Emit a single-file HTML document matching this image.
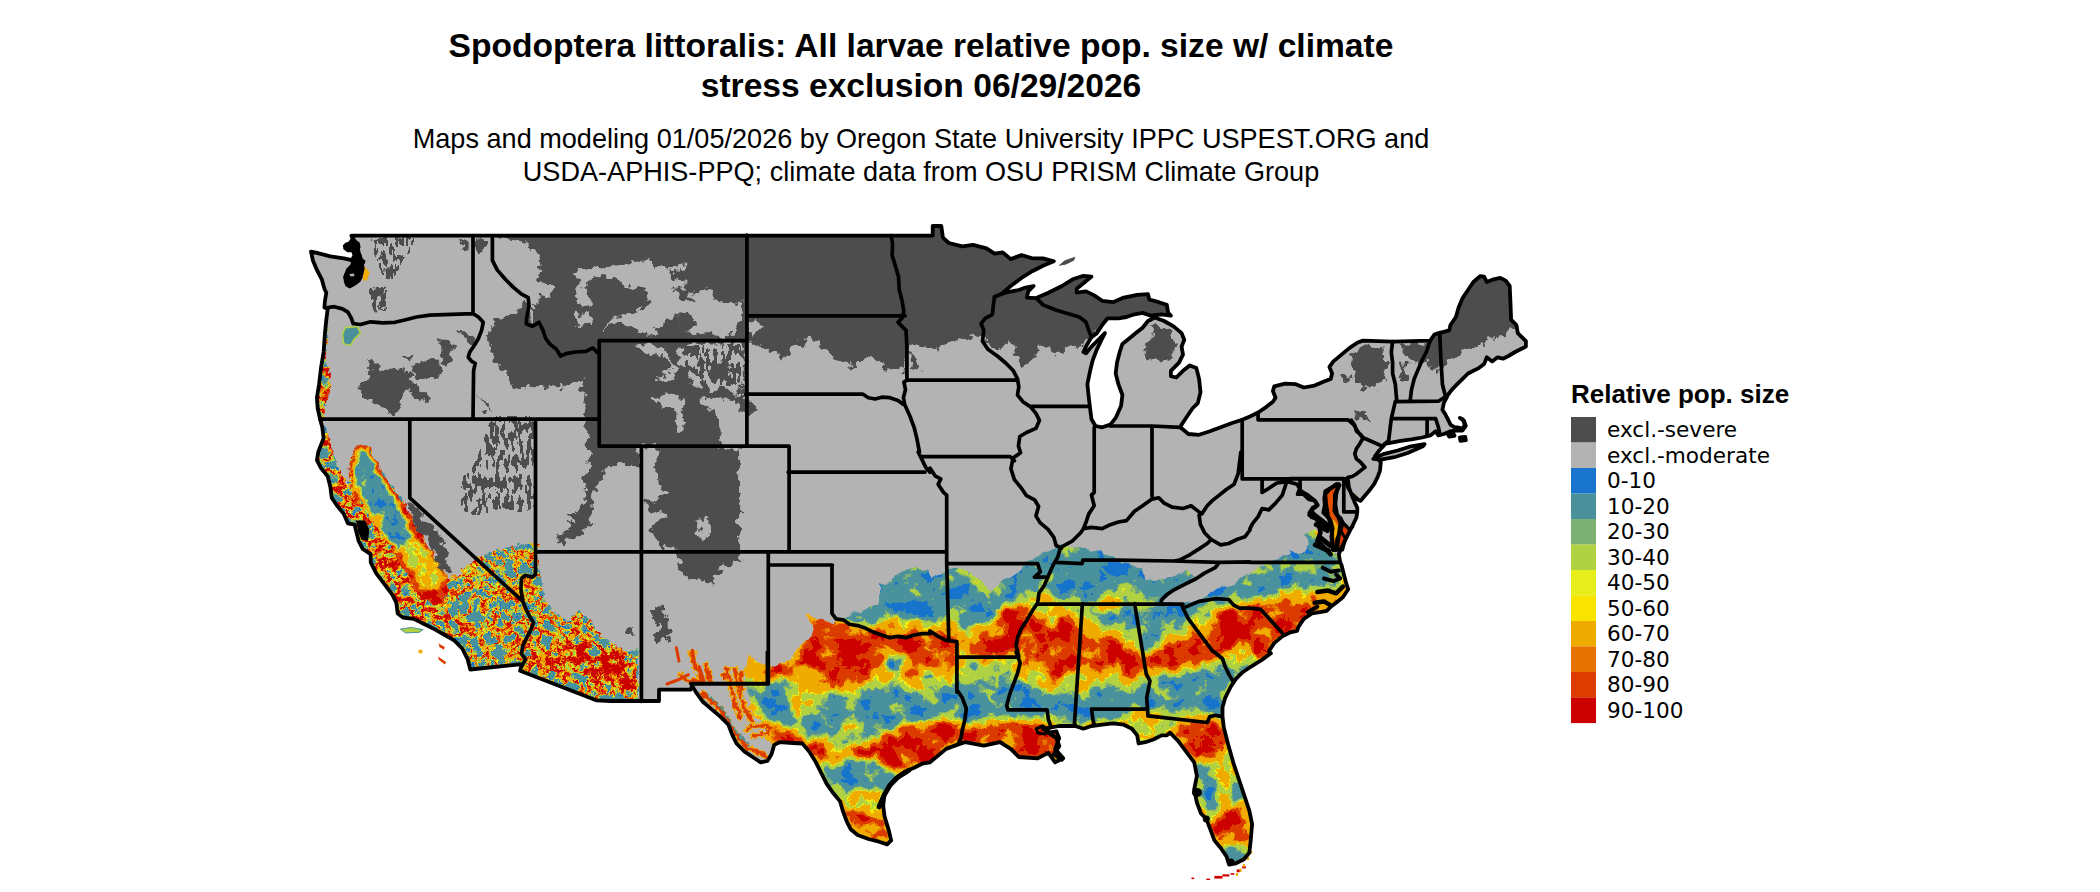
<!DOCTYPE html>
<html><head><meta charset="utf-8"><title>Spodoptera littoralis</title>
<style>
html,body{margin:0;padding:0;background:#fff;}
body{width:2100px;height:892px;overflow:hidden;position:relative;font-family:"Liberation Sans",sans-serif;}
svg{position:absolute;left:0;top:0;}
.t1{font:bold 33.6px "Liberation Sans",sans-serif;fill:#000;text-anchor:middle;}
.t2{font:27.1px "Liberation Sans",sans-serif;fill:#000;text-anchor:middle;}
.lt{font:bold 26px "Liberation Sans",sans-serif;fill:#000;}
.lg{font:21.6px "DejaVu Sans",sans-serif;fill:#000;}
</style></head><body>
<svg width="2100" height="892" viewBox="0 0 2100 892">
<defs>
<clipPath id="us"><path d="M351.4 235.7 L932.7 235.7 L932.7 226 L941.3 226 L942.9 237.6 L948.8 243 L962.3 246.4 L973.1 244.8 L986.5 248.3 L994.6 253.7 L1002.7 252.4 L1010.7 259.1 L1021.5 255.1 L1032.3 258.3 L1043 258.3 L1053.8 261.3 L1043 265.8 L1032.3 271.2 L1021.5 277.9 L1010.7 286 L1001.3 294.1 L994.6 296.8 L1005.4 292.7 L1018.8 290 L1024.2 287.9 L1033.6 286 L1028.2 291.4 L1026.9 297.6 L1036.3 298.1 L1048.4 292.7 L1061.9 286 L1072.6 279.3 L1083.4 275.8 L1091.5 276.6 L1083.4 283.3 L1076.7 288.7 L1076.7 292.7 L1086.1 291.4 L1094.2 295.4 L1102.2 300.8 L1113 302.2 L1123.8 297.6 L1137.2 294.9 L1148 294.1 L1149.3 299.5 L1158.8 302.2 L1166.8 304.9 L1168.2 312.9 L1170.9 315.6 L1161.5 314.3 L1150.7 315.6 L1142.6 312.9 L1134.5 314.3 L1126.5 317 L1118.4 318.3 L1107.6 318.3 L1102.2 325 L1096.9 333.1 L1091.5 337.1 L1087.4 343.9 L1083.4 352 L1086.1 353.3 L1091.5 346.6 L1099.6 338.5 L1104.9 333.1 L1102.2 338.5 L1096.9 349.3 L1092.8 360 L1090.1 370.8 L1087.4 384.2 L1088.8 397.7 L1090.1 408.5 L1091.5 419.2 L1095.5 426 L1102.2 427.3 L1110.3 424.6 L1115.7 417.9 L1121.1 405.8 L1122.4 395 L1118.4 384.2 L1115.7 373.5 L1117 362.7 L1119.7 352 L1122.4 343.9 L1129.2 338.5 L1135.9 333.1 L1142.6 327.7 L1148 321 L1154.7 317.5 L1164.1 321 L1173.6 326.4 L1181.6 333.1 L1184.3 339.8 L1181.6 346.6 L1183 354.6 L1179 362.7 L1170.9 370.8 L1170.9 376.2 L1176.3 377.5 L1183 370.8 L1189.7 365.4 L1196.4 368.1 L1199.1 378.9 L1200.5 392.3 L1197.8 403.1 L1192.4 408.5 L1187 416.5 L1181.6 424.6 L1180.3 427.3 L1188.4 434 L1199.1 434.8 L1209.9 431.3 L1220.7 427.3 L1231.4 423.3 L1242.2 419.8 L1250 416.5 L1250 416.5 L1258.1 412.5 L1266.1 407.1 L1272.9 401.7 L1275.6 397.7 L1272.9 391 L1274.2 386.4 L1285 383.7 L1295.8 384.2 L1303.8 387.5 L1314.6 385.6 L1324 381.6 L1330.7 378.9 L1332.1 373.5 L1329.4 366.8 L1333.4 361.4 L1341.5 354.6 L1349.6 347.9 L1357.7 342.5 L1363 340.6 L1392.6 341.7 L1430.3 340.6 L1434.4 334.5 L1438.4 333.1 L1443.8 331.8 L1449.2 330.4 L1450.5 325 L1455.9 317 L1458.6 307.5 L1462.6 298.1 L1468 290 L1473.4 282 L1480.1 276.1 L1484.1 276.6 L1486.8 282 L1493.6 279.3 L1500.3 277.9 L1505.7 280.6 L1509.7 286 L1510.5 303.5 L1511.1 319.7 L1516.4 325 L1517.8 333.1 L1521.8 337.1 L1525.9 341.2 L1525.9 346.6 L1520.5 349.3 L1515.1 352 L1508.4 356 L1503 358.7 L1497.6 357.3 L1492.2 361.4 L1486.8 357.3 L1484.1 364.1 L1478.8 368.1 L1473.4 370.8 L1468 373.5 L1462.6 378.9 L1457.2 384.2 L1451.9 389.6 L1447.8 395 L1446.5 397.7 L1443.8 403.1 L1442.4 409.8 L1445.1 413.9 L1447.8 419.2 L1450.5 424.6 L1454.5 427.3 L1457.2 427.3 L1462.6 428.7 L1464.8 424.6 L1462.6 419.2 L1459.9 417.9 L1464 420.6 L1465.8 426 L1462.6 430.5 L1455.9 430.5 L1450.5 431.3 L1443.8 434 L1438.4 435.4 L1435.7 431.3 L1430.3 435.4 L1422.2 437.5 L1411.5 439.4 L1400.7 440.8 L1390 442.9 L1384.6 444 L1384.2 445.1 L1379.2 450.5 L1374.9 456.3 L1377.5 458.9 L1380.8 462.2 L1380 470.6 L1377.5 477.4 L1374.1 484.1 L1369.1 490.8 L1364 496.7 L1360.6 500.9 L1358.6 500.1 L1354.8 496.7 L1351.4 493.4 L1348 487.5 L1346.3 482.4 L1346.3 479.1 L1348 479.9 L1348.9 487.5 L1351.4 494.2 L1354.8 502.6 L1357.3 507.7 L1357.3 511.9 L1356.4 517.7 L1353.1 524.5 L1349.7 531.2 L1345.5 539.6 L1341.3 548 L1338.8 554.3 L1340.2 562.3 L1341.5 565 L1344.2 575.8 L1346.4 583.9 L1348.2 589.3 L1342.9 597.3 L1336.1 602.7 L1330.7 606.8 L1326.7 610.8 L1320 612.1 L1311.9 613.5 L1303.8 618.9 L1298.4 626.9 L1297.1 631 L1290.4 632.3 L1282.3 636.4 L1274.2 643.1 L1268.8 651.2 L1270.9 653.3 L1261.5 660.1 L1250.7 666.8 L1242.7 672.2 L1235.9 678.9 L1230.6 687 L1225.2 697.8 L1222.5 707.2 L1222.5 716.6 L1223.8 727.4 L1227.9 743.5 L1233.2 762.3 L1238.6 778.5 L1244 794.6 L1249.4 810.8 L1252.1 824.2 L1250.7 840.4 L1249.4 852.5 L1244 859.2 L1235.9 863.3 L1229.2 864.6 L1226.5 856.5 L1221.1 848.5 L1214.4 840.4 L1210.4 829.6 L1206.3 818.9 L1201 813.5 L1196.9 802.7 L1194.2 789.3 L1196.9 775.8 L1194.2 762.3 L1186.1 751.6 L1178.1 740.8 L1170 732.7 L1166.8 735.4 L1161.5 735.4 L1153.4 739.5 L1145.3 742.2 L1138.6 743.5 L1137.2 735.4 L1131.9 728.7 L1123.8 724.7 L1113 723.3 L1102.2 724.7 L1091.5 726 L1083.4 728.7 L1075.3 726 L1064.6 726 L1059.2 726 L1051.1 727.4 L1043 728.7 L1048.4 732.7 L1056.5 731.4 L1059.2 738.1 L1055.1 748.9 L1063.2 758.3 L1055.1 762.3 L1048.4 752.9 L1037.7 758.3 L1018.8 757 L1010.7 748.9 L1000 742.2 L983.8 745.7 L965 742.2 L956.9 744.9 L946.1 748.9 L938.1 755.6 L930 762.3 L922.2 763.7 L914.1 767.7 L904.7 771.8 L895.3 778.5 L888.6 786.6 L884.5 794.6 L883.2 805.4 L884.5 816.2 L888.6 829.6 L891.2 840.4 L887.2 844.4 L879.1 841.7 L868.4 839 L857.6 835 L850.9 829.6 L846.8 821.6 L842.8 810.8 L840.1 801.4 L833.4 793.3 L826.7 783.9 L821.3 773.1 L815.9 762.3 L809.2 751.6 L802.4 743.5 L793 743 L779.6 742.2 L774.2 744.9 L771.5 754.3 L767.4 761 L760.7 762.3 L752.6 757 L744.6 751.6 L736.5 743.5 L732.5 735.4 L728.4 724.7 L720.3 716.6 L712.3 709.9 L702.9 701.8 L696.1 692.4 L692.1 685.6 L690.7 689.7 L659 689.7 L659 701 L641 701 L610 701 L596.8 700.4 L520.1 670.8 L522 664.1 L470.3 669.5 L467.6 659.2 L462.2 648.5 L454.2 640.4 L444.8 635 L435.3 629.6 L424.6 624.2 L413.8 618.9 L403 617.5 L397.7 613.5 L396.3 602.7 L392.3 594.6 L384.2 583.9 L376.1 573.1 L370.7 562.3 L370.7 554.3 L362.7 548.9 L358.6 540.8 L354.6 524.7 L347.9 523.3 L343.8 513.9 L337.1 505.8 L331.7 497.8 L330.4 487 L327.7 476.2 L321 468.1 L316.9 460.1 L318.3 452 L323.6 438.1 L322.3 427.3 L320.1 419.2 L317.7 408.5 L316.9 397.7 L319.1 384.2 L321 368.1 L323.6 352 L325 333.1 L326.3 319.7 L327.7 308.9 L324.4 307.5 L325 300.8 L326.3 292.7 L324.4 288.7 L321.8 279.3 L316.9 269.9 L312.9 260.4 L311 251.6 L316.9 252.9 L330.4 256.4 L343.8 258.3 L350.6 259.9 L353.2 261.8 L351.9 265.8 L347.9 269.9 L345.2 276.6 L346.5 282.5 L349.7 286 L354.6 283.3 L360.5 277.9 L362.7 268.5 L361.3 260.4 L358.6 252.4 L357.3 244.3 L353.2 238.9 L351.4 235.7Z M1373.3 458.9 L1384.2 453.8 L1397.7 450.5 L1411.1 446.3 L1424.6 444.1 L1422.9 446.3 L1407.7 453 L1394.3 457.2 L1380.8 459.7Z M1447.8 434 L1453.2 433.2 L1454.5 435.9 L1449.2 436.7Z M1459.9 437.5 L1465.3 437 L1465.8 440.2 L1460.5 440.8Z M1058.6 265.8 L1064.6 260.4 L1075.3 256.7 L1074 260.4 L1065.9 264.5Z"/></clipPath>
<clipPath id="zSE"><path d="M774.9 747.5 L768.8 741.5 L760.7 721.3 L748.6 709.2 L746.6 685 L744.6 668.8 L749.6 656.7 L760.7 663.8 L768.8 665.8 L774.9 666.8 L780.9 662.8 L789 662.8 L795.1 654.7 L801.1 644.6 L813.2 638.5 L811.2 624.4 L805.1 613.5 L819.9 618.9 L833.4 624.2 L846.8 616.2 L857.6 610.8 L868.4 608.1 L879.1 602.7 L879.1 586.6 L887.2 581.2 L906 570.4 L914.1 567.7 L930 570.4 L930 578.5 L946.1 570.4 L956.9 567.7 L970.4 570.4 L983.8 586.6 L991.9 592 L1000 583.9 L1013.4 575.8 L1029.6 562.3 L1037.7 557 L1048.4 551.6 L1061.9 544.9 L1075.3 548.9 L1086.1 548.9 L1102.2 552.9 L1118.4 559.7 L1131.9 565 L1142.6 570.4 L1145.3 578.5 L1153.4 581.2 L1166.8 578.5 L1180.3 573.1 L1188.4 570.4 L1192.4 578.5 L1183 586.6 L1172.2 592 L1164.1 598.7 L1161.5 604.1 L1183 604.1 L1201.8 598.7 L1207.2 592 L1220.7 587.9 L1234.1 583.9 L1244.9 575.8 L1250 570.4 L1250 570.4 L1266.1 563.7 L1279.6 558.3 L1290.4 554.3 L1289 548.9 L1297.1 552.9 L1306.5 551.6 L1307.9 543.5 L1305.2 532.7 L1314.6 528.7 L1318.6 532.7 L1321.3 543.5 L1330.7 552.9 L1341.5 555.6 L1363 559.7 L1368.4 592 L1336.1 626.9 L1282.3 672.7 L1420 700 L1420 900 L700 900Z"/></clipPath>
<filter id="pal" x="280" y="200" width="1280" height="692" filterUnits="userSpaceOnUse" color-interpolation-filters="sRGB">
<feGaussianBlur in="SourceGraphic" stdDeviation="4.5" result="bl"/>
<feTurbulence type="fractalNoise" baseFrequency="0.05" numOctaves="5" seed="7" result="n0"/>
<feColorMatrix in="n0" type="matrix" values="1 0 0 0 0  1 0 0 0 0  1 0 0 0 0  0 0 0 0 1" result="n1"/>
<feComposite in="bl" in2="n1" operator="arithmetic" k1="0" k2="1" k3="0.8" k4="-0.4" result="fv"/>
<feComponentTransfer in="fv"><feFuncR type="discrete" tableValues="0.094 0.094 0.094 0.094 0.094 0.094 0.094 0.094 0.094 0.094 0.290 0.290 0.290 0.290 0.290 0.290 0.290 0.290 0.290 0.290 0.290 0.290 0.290 0.290 0.290 0.290 0.290 0.290 0.290 0.490 0.490 0.490 0.490 0.690 0.690 0.690 0.690 0.690 0.690 0.690 0.690 0.690 0.690 0.690 0.690 0.690 0.690 0.690 0.902 0.902 0.976 0.941 0.941 0.941 0.941 0.941 0.941 0.941 0.941 0.941 0.941 0.941 0.941 0.941 0.941 0.941 0.941 0.941 0.941 0.941 0.902 0.902 0.902 0.902 0.863 0.863 0.863 0.863 0.863 0.863 0.863 0.863 0.863 0.863 0.863 0.863 0.863 0.863 0.804 0.804 0.804 0.804 0.804 0.804 0.804 0.804 0.804 0.804 0.804 0.804"/><feFuncG type="discrete" tableValues="0.455 0.455 0.455 0.455 0.455 0.455 0.455 0.455 0.455 0.455 0.569 0.569 0.569 0.569 0.569 0.569 0.569 0.569 0.569 0.569 0.569 0.569 0.569 0.569 0.569 0.569 0.569 0.569 0.569 0.690 0.690 0.690 0.690 0.820 0.820 0.820 0.820 0.820 0.820 0.820 0.820 0.820 0.820 0.820 0.820 0.820 0.820 0.820 0.933 0.933 0.894 0.671 0.671 0.671 0.671 0.671 0.671 0.671 0.671 0.671 0.671 0.671 0.671 0.671 0.671 0.671 0.671 0.671 0.671 0.671 0.451 0.451 0.451 0.451 0.235 0.235 0.235 0.235 0.235 0.235 0.235 0.235 0.235 0.235 0.235 0.235 0.235 0.235 0.000 0.000 0.000 0.000 0.000 0.000 0.000 0.000 0.000 0.000 0.000 0.000"/><feFuncB type="discrete" tableValues="0.804 0.804 0.804 0.804 0.804 0.804 0.804 0.804 0.804 0.804 0.612 0.612 0.612 0.612 0.612 0.612 0.612 0.612 0.612 0.612 0.612 0.612 0.612 0.612 0.612 0.612 0.612 0.612 0.612 0.451 0.451 0.451 0.451 0.259 0.259 0.259 0.259 0.259 0.259 0.259 0.259 0.259 0.259 0.259 0.259 0.259 0.259 0.259 0.106 0.106 0.000 0.000 0.000 0.000 0.000 0.000 0.000 0.000 0.000 0.000 0.000 0.000 0.000 0.000 0.000 0.000 0.000 0.000 0.000 0.000 0.000 0.000 0.000 0.000 0.000 0.000 0.000 0.000 0.000 0.000 0.000 0.000 0.000 0.000 0.000 0.000 0.000 0.000 0.000 0.000 0.000 0.000 0.000 0.000 0.000 0.000 0.000 0.000 0.000 0.000"/></feComponentTransfer>
</filter>
<clipPath id="zSW"><path d="M303.5 413.5 L323.6 423.5 L328.7 437 L332.1 450.5 L337.1 463.9 L343.8 477.4 L348.9 487.5 L348.9 474 L350.6 460.6 L359 445.4 L369.1 447.1 L374.1 460.6 L387.6 480.7 L401 497.6 L407.7 511 L417.8 531.2 L431.3 551.4 L441.4 568.2 L448.1 578.3 L458.2 574.9 L468.3 564.8 L478.4 558.1 L491.9 551.4 L505.3 548 L518.8 544.7 L532.2 543 L540.6 544.7 L535 552.1 L540.4 572.3 L543.1 591.1 L545.8 601.9 L553.8 612.7 L567.3 620.7 L578 610 L588.8 618 L596.9 631.5 L607.7 639.6 L618.4 647.7 L629.2 653 L638.6 647.7 L638.6 712.2 L500 712.2 L392.3 712.2 L257.8 540Z M306.1 319.7 L327.7 319.7 L327.1 338.5 L326.3 352 L325.5 362.7 L329 368.1 L330.4 384.2 L327.7 400.4 L323.6 411.2 L322.3 419.2 L326.3 435.4 L330.4 452.1 L306.1 452.1Z"/></clipPath>
<filter id="pal2" x="280" y="200" width="1280" height="692" filterUnits="userSpaceOnUse" color-interpolation-filters="sRGB">
<feGaussianBlur in="SourceGraphic" stdDeviation="3" result="bl"/>
<feTurbulence type="turbulence" baseFrequency="0.085" numOctaves="3" seed="21" result="n0"/>
<feColorMatrix in="n0" type="matrix" values="-1 0 0 0 1  -1 0 0 0 1  -1 0 0 0 1  0 0 0 0 1" result="n1"/>
<feComposite in="bl" in2="n1" operator="arithmetic" k1="0" k2="1" k3="2.4" k4="-1.8" result="fv"/>
<feComponentTransfer in="fv"><feFuncR type="discrete" tableValues="0.290 0.290 0.290 0.290 0.290 0.290 0.290 0.290 0.290 0.290 0.290 0.290 0.094 0.094 0.094 0.094 0.094 0.290 0.290 0.290 0.290 0.290 0.290 0.290 0.290 0.290 0.290 0.290 0.290 0.490 0.490 0.490 0.490 0.690 0.690 0.690 0.690 0.690 0.690 0.690 0.690 0.690 0.690 0.690 0.690 0.690 0.690 0.690 0.902 0.902 0.976 0.941 0.941 0.941 0.941 0.941 0.941 0.941 0.941 0.941 0.941 0.941 0.941 0.941 0.941 0.941 0.941 0.941 0.941 0.941 0.902 0.902 0.902 0.902 0.863 0.863 0.863 0.863 0.863 0.863 0.863 0.863 0.863 0.863 0.863 0.863 0.863 0.863 0.804 0.804 0.804 0.804 0.804 0.804 0.804 0.804 0.804 0.804 0.804 0.804"/><feFuncG type="discrete" tableValues="0.569 0.569 0.569 0.569 0.569 0.569 0.569 0.569 0.569 0.569 0.569 0.569 0.455 0.455 0.455 0.455 0.455 0.569 0.569 0.569 0.569 0.569 0.569 0.569 0.569 0.569 0.569 0.569 0.569 0.690 0.690 0.690 0.690 0.820 0.820 0.820 0.820 0.820 0.820 0.820 0.820 0.820 0.820 0.820 0.820 0.820 0.820 0.820 0.933 0.933 0.894 0.671 0.671 0.671 0.671 0.671 0.671 0.671 0.671 0.671 0.671 0.671 0.671 0.671 0.671 0.671 0.671 0.671 0.671 0.671 0.451 0.451 0.451 0.451 0.235 0.235 0.235 0.235 0.235 0.235 0.235 0.235 0.235 0.235 0.235 0.235 0.235 0.235 0.000 0.000 0.000 0.000 0.000 0.000 0.000 0.000 0.000 0.000 0.000 0.000"/><feFuncB type="discrete" tableValues="0.612 0.612 0.612 0.612 0.612 0.612 0.612 0.612 0.612 0.612 0.612 0.612 0.804 0.804 0.804 0.804 0.804 0.612 0.612 0.612 0.612 0.612 0.612 0.612 0.612 0.612 0.612 0.612 0.612 0.451 0.451 0.451 0.451 0.259 0.259 0.259 0.259 0.259 0.259 0.259 0.259 0.259 0.259 0.259 0.259 0.259 0.259 0.259 0.106 0.106 0.000 0.000 0.000 0.000 0.000 0.000 0.000 0.000 0.000 0.000 0.000 0.000 0.000 0.000 0.000 0.000 0.000 0.000 0.000 0.000 0.000 0.000 0.000 0.000 0.000 0.000 0.000 0.000 0.000 0.000 0.000 0.000 0.000 0.000 0.000 0.000 0.000 0.000 0.000 0.000 0.000 0.000 0.000 0.000 0.000 0.000 0.000 0.000 0.000 0.000"/></feComponentTransfer>
</filter>
<clipPath id="zVal"><path d="M359 445.4 L370.7 447.1 L375.8 462.2 L387.6 480.7 L399.3 497.6 L406.1 507.7 L417.8 527.8 L427.9 544.7 L438 561.5 L446.4 578.3 L448.1 591.8 L441.4 605.2 L431.3 606.9 L421.2 598.5 L411.1 581.7 L401 564.8 L390.9 548 L380.8 531.2 L370.7 516.1 L362.3 500.9 L353.9 497.6 L350.6 480.7 L350.6 460.6Z"/></clipPath>
<filter id="pal3" x="280" y="200" width="1280" height="692" filterUnits="userSpaceOnUse" color-interpolation-filters="sRGB">
<feGaussianBlur in="SourceGraphic" stdDeviation="2.5" result="bl"/>
<feTurbulence type="fractalNoise" baseFrequency="0.12" numOctaves="3" seed="5" result="n0"/>
<feColorMatrix in="n0" type="matrix" values="1 0 0 0 0  1 0 0 0 0  1 0 0 0 0  0 0 0 0 1" result="n1"/>
<feComposite in="bl" in2="n1" operator="arithmetic" k1="0" k2="1" k3="0.5" k4="-0.25" result="fv"/>
<feComponentTransfer in="fv"><feFuncR type="discrete" tableValues="0.094 0.094 0.094 0.094 0.094 0.094 0.094 0.094 0.094 0.094 0.290 0.290 0.290 0.290 0.290 0.290 0.290 0.290 0.290 0.290 0.290 0.290 0.290 0.290 0.290 0.290 0.290 0.290 0.290 0.490 0.490 0.490 0.490 0.690 0.690 0.690 0.690 0.690 0.690 0.690 0.690 0.690 0.690 0.690 0.690 0.690 0.690 0.690 0.902 0.902 0.976 0.941 0.941 0.941 0.941 0.941 0.941 0.941 0.941 0.941 0.941 0.941 0.941 0.941 0.941 0.941 0.941 0.941 0.941 0.941 0.902 0.902 0.902 0.902 0.863 0.863 0.863 0.863 0.863 0.863 0.863 0.863 0.863 0.863 0.863 0.863 0.863 0.863 0.804 0.804 0.804 0.804 0.804 0.804 0.804 0.804 0.804 0.804 0.804 0.804"/><feFuncG type="discrete" tableValues="0.455 0.455 0.455 0.455 0.455 0.455 0.455 0.455 0.455 0.455 0.569 0.569 0.569 0.569 0.569 0.569 0.569 0.569 0.569 0.569 0.569 0.569 0.569 0.569 0.569 0.569 0.569 0.569 0.569 0.690 0.690 0.690 0.690 0.820 0.820 0.820 0.820 0.820 0.820 0.820 0.820 0.820 0.820 0.820 0.820 0.820 0.820 0.820 0.933 0.933 0.894 0.671 0.671 0.671 0.671 0.671 0.671 0.671 0.671 0.671 0.671 0.671 0.671 0.671 0.671 0.671 0.671 0.671 0.671 0.671 0.451 0.451 0.451 0.451 0.235 0.235 0.235 0.235 0.235 0.235 0.235 0.235 0.235 0.235 0.235 0.235 0.235 0.235 0.000 0.000 0.000 0.000 0.000 0.000 0.000 0.000 0.000 0.000 0.000 0.000"/><feFuncB type="discrete" tableValues="0.804 0.804 0.804 0.804 0.804 0.804 0.804 0.804 0.804 0.804 0.612 0.612 0.612 0.612 0.612 0.612 0.612 0.612 0.612 0.612 0.612 0.612 0.612 0.612 0.612 0.612 0.612 0.612 0.612 0.451 0.451 0.451 0.451 0.259 0.259 0.259 0.259 0.259 0.259 0.259 0.259 0.259 0.259 0.259 0.259 0.259 0.259 0.259 0.106 0.106 0.000 0.000 0.000 0.000 0.000 0.000 0.000 0.000 0.000 0.000 0.000 0.000 0.000 0.000 0.000 0.000 0.000 0.000 0.000 0.000 0.000 0.000 0.000 0.000 0.000 0.000 0.000 0.000 0.000 0.000 0.000 0.000 0.000 0.000 0.000 0.000 0.000 0.000 0.000 0.000 0.000 0.000 0.000 0.000 0.000 0.000 0.000 0.000 0.000 0.000"/></feComponentTransfer>
</filter>
<filter id="speck" x="280" y="200" width="1280" height="692" filterUnits="userSpaceOnUse" color-interpolation-filters="sRGB">
<feTurbulence type="fractalNoise" baseFrequency="0.22 0.09" numOctaves="2" seed="4" result="t"/>
<feColorMatrix in="t" type="matrix" values="0 0 0 0 0  0 0 0 0 0  0 0 0 0 0  14 0 0 0 -6.6" result="m"/>
<feGaussianBlur in="SourceGraphic" stdDeviation="2" result="sb"/>
<feComposite in="sb" in2="m" operator="in" result="c"/>
<feComponentTransfer in="c"><feFuncA type="discrete" tableValues="0 1"/></feComponentTransfer>
</filter>
<filter id="rough" x="280" y="200" width="1280" height="692" filterUnits="userSpaceOnUse" color-interpolation-filters="sRGB">
<feTurbulence type="fractalNoise" baseFrequency="0.09" numOctaves="2" seed="3" result="t"/>
<feDisplacementMap in="SourceGraphic" in2="t" scale="9" xChannelSelector="R" yChannelSelector="G"/>
</filter>
<filter id="rough3" x="280" y="200" width="1280" height="692" filterUnits="userSpaceOnUse" color-interpolation-filters="sRGB">
<feTurbulence type="fractalNoise" baseFrequency="0.22" numOctaves="2" seed="9" result="t"/>
<feDisplacementMap in="SourceGraphic" in2="t" scale="7" xChannelSelector="R" yChannelSelector="G"/>
</filter>
<filter id="rough2" x="280" y="200" width="1280" height="692" filterUnits="userSpaceOnUse" color-interpolation-filters="sRGB">
<feTurbulence type="fractalNoise" baseFrequency="0.12" numOctaves="3" seed="11" result="t"/>
<feDisplacementMap in="SourceGraphic" in2="t" scale="14" xChannelSelector="R" yChannelSelector="G"/>
</filter>
</defs>
<text class="t1" x="921" y="57">Spodoptera littoralis: All larvae relative pop. size w/ climate</text>
<text class="t1" x="921" y="97">stress exclusion 06/29/2026</text>
<text class="t2" x="921" y="148">Maps and modeling 01/05/2026 by Oregon State University IPPC USPEST.ORG and</text>
<text class="t2" x="921" y="181">USDA-APHIS-PPQ; climate data from OSU PRISM Climate Group</text>
<g clip-path="url(#us)">
<rect x="280" y="200" width="1280" height="692" fill="#b3b3b3"/>
<g filter="url(#rough)"><g clip-path="url(#zSE)"><g filter="url(#pal)">
<rect x="280" y="200" width="1280" height="692" fill="#808080"/>
<path d="M846.8 616.2 L857.6 610.8 L868.4 608.1 L879.1 602.7 L879.1 586.6 L887.2 581.2 L906 570.4 L914.1 567.7 L930 570.4 L930 578.5 L946.1 570.4 L956.9 567.7 L970.4 570.4 L983.8 586.6 L991.9 592 L1000 583.9 L1013.4 575.8 L1029.6 562.3 L1037.7 557 L1048.4 551.6 L1061.9 544.9 L1075.3 548.9 L1086.1 548.9 L1102.2 552.9 L1118.4 559.7 L1131.9 565 L1142.6 570.4 L1145.3 578.5 L1153.4 581.2 L1166.8 578.5 L1180.3 573.1 L1188.4 570.4 L1192.4 578.5 L1183 586.6 L1172.2 592 L1164.1 598.7 L1161.5 604.1 L1183 604.1 L1201.8 598.7 L1207.2 592 L1220.7 587.9 L1234.1 583.9 L1244.9 575.8 L1250 570.4 L1250 570.4 L1266.1 563.7 L1279.6 558.3 L1290.4 554.3 L1289 548.9 L1297.1 552.9 L1306.5 551.6 L1307.9 543.5" fill="none" stroke="#303030" stroke-width="34" stroke-linejoin="round"/>
<path d="M930 626.9 L946.1 637.7 L962.3 640.4 L978.4 637.7 L991.9 626.9 L1000 613.5 L1008 604.1 L1016.1 601.4 L1021.5 610.8 L1029.6 613.5 L1037.7 610.8 L1043 618.9 L1051.1 624.2 L1059.2 620.2 L1070 617.5 L1076.7 624.2 L1080.7 637.7 L1091.5 640.4 L1104.9 637.7 L1118.4 641.7 L1129.2 645.8 L1137.2 651.2 L1145.3 656.5 L1156.1 651.2 L1166.8 645.8 L1177.6 640.4 L1188.4 635 L1199.1 626.9 L1209.9 618.9 L1220.7 613.5 L1231.4 610.8 L1242.2 606.8 L1250 605.4 L1250 640.4 L1239.5 645.8 L1226 651.2 L1215.3 656.5 L1204.5 664.6 L1193.8 667.3 L1183 664.6 L1172.2 667.3 L1161.5 670 L1150.7 667.3 L1139.9 672.7 L1129.2 675.4 L1118.4 671.3 L1107.6 667.3 L1096.9 670 L1086.1 667.3 L1078 661.9 L1070 672.7 L1061.9 680.8 L1053.8 675.4 L1045.7 667.3 L1037.7 661.9 L1029.6 656.5 L1021.5 653.9 L1010.7 655.2 L997.3 656.5 L983.8 655.2 L970.4 653.9 L956.9 652.5 L943.5 653.9 L930 652.5Z" fill="#e0e0e0"/>
<path d="M878.4 591.1 L894.6 583.1 L910.7 572.3 L926.9 580.4 L945.7 585.8 L964.5 591.1 L980.7 593.8 L994.1 591.1 L1010.3 585.8 L1029.1 577.7 L1045.3 566.9 L1056 556.1 L1080 556.1 L1080 593.8 L1061.4 593.8 L1045.3 591.1 L1029.1 593.8 L1015.7 596.5 L1002.2 607.3 L988.8 620.7 L975.3 628.8 L959.2 628.8 L945.7 620.7 L932.2 618 L910.7 615.4 L894.6 612.7 L878.4 604.6Z" fill="#2e2e2e"/>
<path d="M961.9 575 L978 573.6 L980.7 585.8 L967.2 588.4Z" fill="#cccccc"/>
<path d="M867.7 698.8 L878.4 690.7 L894.6 688 L910.7 693.4 L926.9 696.1 L948.4 693.4 L964.5 690.7 L975.3 685.3 L991.5 680 L1007.6 682.6 L1018.4 690.7 L1029.1 698.8 L1045.3 701.5 L1061.4 698.8 L1080 701.5 L1080 723 L1061.4 720.3 L1045.3 717.6 L1029.1 720.3 L1015.7 714.9 L1002.2 712.2 L988.8 717.6 L975.3 720.3 L961.9 717.6 L948.4 712.2 L932.2 717.6 L910.7 720.3 L894.6 714.9 L878.4 717.6 L867.7 712.2Z" fill="#2e2e2e"/>
<path d="M821.9 758 L840.7 759.3 L862.3 756.7 L878.4 755.3 L894.6 774.1 L889.2 787.6 L821.9 787.6Z" fill="#2e2e2e"/>
<path d="M760 725.7 L770.8 723 L786.9 732.4 L805.8 740.5 L827.3 751.3 L848.8 749.9 L867.7 744.5 L878.4 739.2 L889.2 728.4 L905.3 725.7 L921.5 728.4 L937.6 725.7 L953.8 728.4 L964.5 733.8 L975.3 728.4 L991.5 725.7 L1007.6 728.4 L1018.4 725.7 L1029.1 728.4 L1045.3 725.7 L1056 728.4 L1064.1 739.2 L1056 755.3 L1039.9 760.7 L1023.8 758 L1013 749.9 L996.8 744.5 L980.7 741.9 L964.5 744.5 L948.4 747.2 L932.2 755.3 L916.1 766.1 L900 774.1 L889.2 768.8 L878.4 755.3 L867.7 752.6 L848.8 758 L827.3 759.3 L805.8 749.9 L786.9 741.9 L770.8 733.8 L760 733.8Z" fill="#e0e0e0"/>
<path d="M905.3 634.2 L932.2 632.9 L953.8 639.6 L956.5 653 L953.8 669.2 L943 658.4 L932.2 666.5 L916.1 661.1 L905.3 647.7Z" fill="#e0e0e0"/>
<path d="M883.8 653 L894.6 647.7 L905.3 653 L905.3 666.5 L894.6 671.9 L883.8 666.5Z" fill="#1a1a1a"/>
<path d="M1045.7 565 L1059.2 559.7 L1080.7 565 L1102.2 565 L1118.4 570.4 L1129.2 578.5 L1118.4 592 L1102.2 597.3 L1091.5 601.4 L1080.7 597.3 L1064.6 600 L1048.4 597.3 L1043 586.6Z" fill="#2e2e2e"/>
<path d="M1086.1 608.1 L1102.2 613.5 L1118.4 610.8 L1134.5 608.1 L1145.3 610.8 L1158.8 618.9 L1172.2 624.2 L1183 613.5 L1188.4 624.2 L1180.3 635 L1166.8 637.7 L1158.8 645.8 L1145.3 648.5 L1139.9 637.7 L1129.2 632.3 L1115.7 626.9 L1102.2 624.2 L1091.5 618.9Z" fill="#2e2e2e"/>
<path d="M951.5 581.2 L967.7 578.5 L983.8 589.3 L994.6 597.3 L1010.7 586.6 L1026.9 573.1 L1037.7 570.4 L1037.7 586.6 L1026.9 597.3 L1010.7 602.7 L1000 610.8 L989.2 618.9 L973.1 624.2 L956.9 618.9 L946.1 613.5 L935.4 602.7 L930 597.3 L930 586.6Z" fill="#2e2e2e"/>
<path d="M930 687 L946.1 684.3 L962.3 678.9 L983.8 681.6 L1000 676.2 L1016.1 681.6 L1032.3 687 L1048.4 692.4 L1070 689.7 L1091.5 692.4 L1113 689.7 L1134.5 687 L1150.7 681.6 L1172.2 676.2 L1193.8 673.5 L1215.3 670.8 L1231.4 668.1 L1239.5 676.2 L1231.4 687 L1226 700.4 L1220.7 711.2 L1204.5 713.9 L1188.4 708.5 L1172.2 705.8 L1156.1 708.5 L1139.9 711.2 L1118.4 716.6 L1102.2 719.3 L1080.7 722 L1064.6 719.3 L1048.4 716.6 L1032.3 713.9 L1016.1 711.2 L1000 713.9 L983.8 716.6 L967.7 722 L956.9 719.3 L946.1 716.6 L930 719.3Z" fill="#2e2e2e"/>
<path d="M970.4 730 L983.8 727.4 L1000 724.7 L1016.1 722 L1032.3 730 L1048.4 732.7 L1059.2 738.1 L1061.9 759.7 L1048.4 762.3 L1032.3 759.7 L1016.1 757 L1005.4 746.2 L989.2 746.2 L973.1 743.5Z" fill="#cccccc"/>
<path d="M930 724.7 L940.8 722 L956.9 730 L959.6 743.5 L946.1 748.9 L930 759.7Z" fill="#e0e0e0"/>
<path d="M1185.7 722 L1199.1 719.3 L1212.6 722 L1222 732.7 L1223.4 748.9 L1215.3 759.7 L1204.5 754.3 L1193.8 759.7 L1185.7 746.2 L1180.3 732.7Z" fill="#e0e0e0"/>
<path d="M1170 678.9 L1186.1 668.1 L1202.3 665.5 L1218.4 668.1 L1229.2 678.9 L1227.9 692.4 L1223.8 705.8 L1210.4 711.2 L1196.9 705.8 L1183.5 708.5 L1170 711.2Z" fill="#2e2e2e"/>
<path d="M1180.8 727.4 L1196.9 722 L1213.1 724.7 L1223.8 732.7 L1229.2 748.9 L1223.8 759.7 L1210.4 754.3 L1196.9 759.7 L1186.1 746.2Z" fill="#e0e0e0"/>
<path d="M1210.4 824.2 L1223.8 813.5 L1240 810.8 L1250.7 818.9 L1250.7 840.4 L1237.3 845.8 L1221.1 843.1 L1213.1 835Z" fill="#e0e0e0"/>
<path d="M1199.6 770.4 L1213.1 762.3 L1226.5 767.7 L1237.3 781.2 L1242.7 797.3 L1237.3 808.1 L1223.8 805.4 L1213.1 810.8 L1202.3 802.7 L1198.3 786.6Z" fill="#2e2e2e"/>
<path d="M1223.8 851.2 L1250.7 845.8 L1250.7 867.3 L1226.5 867.3Z" fill="#262626"/>
<path d="M1214.4 773.1 L1223.8 770.4 L1230.6 781.2 L1231.9 797.3 L1226.5 810.8 L1218.4 808.1 L1215.8 792Z" fill="#949494"/>
<path d="M1202.3 802.7 L1213.1 810.8 L1210.4 818.9 L1202.3 813.5Z" fill="#808080"/>
<path d="M1233.9 573.1 L1250 570.4 L1266.1 567.7 L1282.3 565 L1303.8 565 L1325.4 563.7 L1341.5 565 L1344.2 581.2 L1330.7 586.6 L1314.6 583.9 L1298.4 586.6 L1282.3 589.3 L1266.1 592 L1250 597.3 L1233.9 597.3Z" fill="#2e2e2e"/>
<path d="M1303.8 598.7 L1341.5 592 L1345.5 602.7 L1325.4 613.5 L1303.8 620.2Z" fill="#b8b8b8"/>
<path d="M1250 605.4 L1266.1 600 L1282.3 602.7 L1298.4 602.7 L1309.2 608.1 L1303.8 618.9 L1295.8 629.6 L1282.3 635 L1271.5 645.8 L1260.8 656.5 L1250 661.9Z" fill="#e0e0e0"/>
<path d="M1305.2 532.7 L1314.6 530 L1318.6 540.8 L1322.7 554.3 L1336.1 558.3 L1336.1 562.3 L1282.3 562.3 L1290.4 555.6 L1306.5 551.6Z" fill="#333333"/>
<path d="M1305.2 531.4 L1315.9 528.7 L1320 540.8 L1318.6 548.9 L1307.9 547.5Z" fill="#6b6b6b"/>
<path d="M805.2 614.3 L819.3 618.4 L825.3 620.4 L833.4 627.4 L845.5 620.4 L855.6 623.4 L869.7 629.5 L881.9 633.5 L894 635.5 L908.1 635.5 L932.3 634.5 L932.3 666.8 L920 664.8 L912.1 660.7 L902 652.7 L889.9 656.7 L881.9 664.8 L873.8 668.8 L869.7 676.9 L861.7 680.9 L853.6 689 L845.5 685 L833.4 689 L821.3 680.9 L817.3 670.8 L805.2 666.8 L793 668.8 L780.9 672.9 L768.8 676.9 L756.7 676.9 L747.6 674.9 L746.6 666.8 L750.6 658.7 L760.7 664.8 L768.8 666.8 L774.9 666.8 L780.9 662.8 L789 662.8 L795.1 654.7 L801.1 644.6 L813.2 638.5 L811.2 624.4Z" fill="#e0e0e0"/>
<path d="M746.6 687 L760.7 685 L774.9 680.9 L789 678.9 L793 689 L789 701.1 L793 713.2 L801.1 721.3 L793 729.4 L780.9 725.3 L768.8 719.3 L760.7 709.2 L750.6 701.1Z" fill="#2e2e2e"/>
<path d="M795.1 674.9 L813.2 672.9 L821.3 685 L819.3 701.1 L805.2 703.1 L797.1 693Z" fill="#9e9e9e"/>
<path d="M817.3 695.1 L829.4 691 L841.5 693 L847.5 699.1 L839.5 705.2 L825.3 703.1Z" fill="#2e2e2e"/>
<path d="M819.3 703.1 L841.5 701.1 L845.5 713.2 L829.4 721.3 L817.3 715.2Z" fill="#9e9e9e"/>
<path d="M801.1 721.3 L817.3 719.3 L833.4 721.3 L849.6 725.3 L861.7 721.3 L873.8 729.4 L869.7 739.5 L857.6 737.4 L841.5 739.5 L829.4 733.4 L813.2 731.4Z" fill="#2e2e2e"/>
<path d="M845.5 727.4 L855.6 726.3 L857.6 733.4 L847.5 734.4Z" fill="#a6a6a6"/>
<path d="M814.5 705.8 L830.7 695.1 L852.2 692.4 L873.8 689.7 L895.3 692.4 L911.4 697.8 L930 700.4 L930 719.3 L911.4 722 L895.3 727.4 L879.1 735.4 L863 740.8 L846.8 740.8 L830.7 738.1 L819.9 727.4 L811.9 716.6Z" fill="#2e2e2e"/>
<path d="M846.8 724.7 L860.3 723.3 L863 732.7 L849.5 734.1Z" fill="#a6a6a6"/>
<path d="M822.6 765 L838.8 762.3 L857.6 767.7 L873.8 773.1 L881.8 786.6 L868.4 789.3 L852.2 783.9 L836.1 778.5 L825.3 773.1Z" fill="#2e2e2e"/>
<path d="M846.8 813.5 L857.6 810.8 L868.4 816.2 L879.1 813.5 L887.2 824.2 L889.9 840.4 L868.4 837.7 L852.2 829.6 L844.1 818.9Z" fill="#e0e0e0"/>
<path d="M760.7 740.8 L771.5 735.4 L793 738.1 L811.9 750.2 L838.8 751.6 L865.7 746.2 L892.6 739.5 L911.4 732.7 L930 724.7 L930 765 L911.4 767.7 L892.6 759.7 L865.7 759.7 L838.8 761 L819.9 761 L809.2 755.6 L798.4 746.2 L782.2 744.9 L771.5 746.2Z" fill="#e0e0e0"/>
</g></g></g>
<g filter="url(#rough3)"><g clip-path="url(#zSW)"><g filter="url(#pal2)">
<rect x="280" y="200" width="1280" height="692" fill="#808080"/>
<path d="M521.5 620.7 L567.3 620.7 L588.8 647.7 L575.4 666.5 L580.7 690.7 L532.3 674.6 L521.5 647.7Z" fill="#9e9e9e"/>
<path d="M575.4 647.7 L588.8 642.3 L607.7 647.7 L623.8 658.4 L634.6 669.2 L634.6 690.7 L618.4 690.7 L602.3 685.3 L588.8 680 L578 666.5Z" fill="#e6e6e6"/>
<path d="M440.7 602.7 L462.2 597.3 L467.6 608.1 L456.9 618.9 L443.4 613.5Z" fill="#333333"/>
<path d="M340.5 511 L362.3 500.9 L370.7 516.1 L380.8 531.2 L390.9 548 L401 564.8 L411.1 581.7 L421.2 598.5 L431.3 606.9 L441.4 610.3 L431.3 615.3 L417.8 615.3 L401 608.6 L394.3 591.8 L387.6 574.9 L374.1 558.1 L364 541.3 L350.6 527.8Z" fill="#cccccc"/>
<path d="M303.5 413.5 L323.6 423.5 L328.7 437 L332.1 450.5 L337.1 463.9 L343.8 477.4 L348.9 487.5 L340.5 511 L323.6 484.1 L310.2 450.5Z" fill="#bfbfbf"/>
<path d="M431.3 615.3 L448.1 611.9 L464.9 618.7 L471.7 635.5 L458.2 642.2 L441.4 632.1Z" fill="#b2b2b2"/>
<path d="M306.1 319.7 L327.7 319.7 L327.1 338.5 L326.3 352 L325.5 362.7 L329 368.1 L330.4 384.2 L327.7 400.4 L323.6 411.2 L322.3 419.2 L326.3 435.4 L330.4 452.1 L306.1 452.1Z" fill="#c7c7c7"/>
</g></g></g>
<g filter="url(#rough)"><g clip-path="url(#zVal)"><g filter="url(#pal3)">
<rect x="280" y="200" width="1280" height="692" fill="#dbdbdb"/>
<path d="M358.3 451.1 L368.4 451.1 L374.1 466.6 L386.2 486.1 L396.3 502.9 L405.1 517.1 L411.8 533.9 L406.1 543 L397.7 552.1 L386.9 538.6 L378.1 525.1 L369.4 511.7 L364 498.2 L355.3 488.1 L353.6 470.6Z" fill="#262626"/>
<path d="M401 548 L412.8 536.2 L427.9 548.7 L440 567.5 L444.1 587 L431.3 595.1 L419.9 584.4 L411.1 570.9 L404.4 558.8Z" fill="#808080"/>
<path d="M422.9 590.1 L434.7 588.4 L439.7 598.5 L433 605.2 L422.9 600.2Z" fill="#f2f2f2"/>
<path d="M370.7 514.4 L380.8 512.7 L384.2 522.8 L374.1 526.2Z" fill="#9e9e9e"/>
<path d="M362.3 475.7 L370.7 475.7 L372.4 484.1 L364 485.8Z" fill="#616161"/>
</g></g></g>
<g filter="url(#rough2)">
<path d="M493.8 214.2 L493.8 260 L497.9 270.8 L507.3 278.8 L518 289.6 L526.1 297.7 L520.7 308.4 L507.3 315.2 L493.8 321.9 L487.1 338 L491.1 351.5 L497.9 365 L508.6 375.7 L512.7 386.5 L531.5 387.8 L547.7 386.5 L558.4 389.2 L574.6 381.1 L586.7 378.4 L580 386.5 L585.3 397.2 L586.7 417.4 L598.8 424.2 L598.8 446.2 L744.1 446.2 L744.1 397.2 L745.9 373.5 L747.3 341.2 L755.3 343.9 L763.4 346.6 L771.5 352 L782.2 358.7 L787.6 349.3 L798.4 343.9 L809.2 339.8 L817.2 341.2 L825.3 349.3 L833.4 358.7 L844.1 364.1 L854.9 368.1 L859 358.7 L868.4 357.3 L879.1 362.7 L887.2 370.8 L895.3 368.1 L906 370.8 L907.4 343.9 L919.5 346.6 L930 347.9 L930 347.9 L943.5 345.2 L956.9 339.8 L970.4 337.1 L981.1 334.5 L987.9 346.6 L1000 349.3 L1010.7 341.2 L1016.1 352 L1021.5 365.4 L1032.3 362.7 L1037.7 349.3 L1048.4 343.9 L1056.5 354.6 L1067.3 346.6 L1080.7 343.9 L1088.8 341.2 L1096.9 333.1 L1118.4 319.7 L1172.2 317.5 L1172.2 265.8 L1053.8 238.9 L930 201.2Z" fill="#4d4d4d"/>
<path d="M493.8 235.8 L518 238.5 L534.2 249.2 L540.9 262.7 L538.2 278.8 L553 289.6 L553 297.7 L539.6 296.3 L532.9 305.7 L534.2 320.5 L528.8 319.2 L526.1 297.7 L518 289.6 L507.3 278.8 L497.9 270.8 L493.8 260Z" fill="#b3b3b3"/>
<path d="M571.9 273.4 L582.6 268.1 L601.5 268.1 L617.6 265.4 L633.8 262.7 L649.9 258.6 L655.3 265.4 L668.8 270.8 L674.1 265.4 L687.6 265.4 L682.2 278.8 L693 295 L709.1 286.9 L711.8 297.7 L725.3 303 L741.4 300.4 L742.8 313.8 L736 332.7 L719.9 338 L709.1 331.3 L698.4 335.3 L682.2 331.3 L676.8 313.8 L668.8 319.2 L655.3 335.3 L639.2 332.7 L628.4 327.3 L612.2 321.9 L604.2 331.3 L606.9 319.2 L623 313.8 L633.8 311.1 L647.2 305.7 L649.9 295 L639.2 286.9 L628.4 289.6 L617.6 278.8 L604.2 276.1 L590.7 278.8 L585.3 286.9 L590.7 300.4 L588 308.4 L580 303 L575.9 289.6 L580 281.5Z" fill="#b3b3b3"/>
<path d="M574.6 313.8 L590.7 315.2 L592.1 324.6 L577.3 325.9Z" fill="#b3b3b3"/>
<path d="M633.8 343.4 L652.6 344.8 L668.8 354.2 L676.8 365 L674.1 378.4 L663.4 382.4 L655.3 378.4 L668.8 373 L671.5 362.3 L660.7 354.2 L644.5 351.5 L636.5 348.8Z" fill="#b3b3b3"/>
<path d="M682.2 346.1 L709.1 343.4 L742.8 343.4 L742.8 386.5 L736 397.2 L725.3 386.5 L711.8 391.9 L703.8 381.1 L698.4 386.5 L687.6 378.4 L682.2 365 L676.8 351.5Z" fill="#b3b3b3"/>
<path d="M698.4 399.9 L719.9 397.2 L736 402.6 L745.5 410.7 L745.5 447.3 L721.2 447.3 L719.9 418.8 L709.1 408Z" fill="#b3b3b3"/>
<path d="M652.6 397.2 L671.5 393.2 L682.2 397.2 L683.6 429.5 L678.2 430.9 L675.5 410.7 L663.4 405.3 L654 404Z" fill="#b3b3b3"/>
<path d="M747.3 319.7 L758 318.3 L760.7 327.7 L752.6 333.1 L747.3 330.4Z" fill="#b3b3b3"/>
<path d="M709.1 365 L725.3 359.6 L733.4 370.3 L725.3 381.1 L711.8 378.4Z" fill="#4d4d4d"/>
<path d="M671.5 270.8 L687.6 268.1 L690.3 278.8 L676.8 281.5Z" fill="#4d4d4d"/>
<path d="M674.1 289.6 L690.3 289.6 L693 300.4 L679.5 303Z" fill="#4d4d4d"/>
<path d="M676.8 313.8 L690.3 311.1 L695.7 327.3 L682.2 332.7Z" fill="#4d4d4d"/>
<path d="M731.1 400.4 L744.6 397.7 L755.3 403.1 L756.7 411.2 L750 415.2 L739.2 408.5Z" fill="#4d4d4d"/>
<path d="M908.7 352 L914.1 354.6 L919.5 370.8 L911.4 368.1Z" fill="#4d4d4d"/>
<path d="M1148 325 L1158.8 325 L1172.2 333.1 L1174.9 346.6 L1172.2 357.3 L1158.8 361.4 L1150.7 362.7 L1144 352 L1148 341.2 L1153.4 335.8Z" fill="#4d4d4d"/>
<path d="M1435.7 333.1 L1438.4 265.8 L1529.9 265.8 L1529.9 327.7 L1512.4 327.7 L1505.7 330.4 L1503 337.1 L1492.2 338.5 L1478.8 343.9 L1465.3 349.3 L1454.5 357.3 L1443.8 362.7 L1441.6 370.8 L1438.4 370.8 L1430.3 365.4 L1422.2 360 L1427.6 346.6 L1430.9 340.6 L1435.7 333.1Z" fill="#4d4d4d"/>
<path d="M1403.4 342.5 L1429 342.5 L1427.6 352 L1422.2 362.7 L1411.5 360 L1404.8 352Z" fill="#4d4d4d"/>
<path d="M1352.3 357.3 L1360.3 349.3 L1371.1 345.2 L1381.9 346.6 L1384.6 357.3 L1387.3 368.1 L1383.2 378.9 L1376.5 386.9 L1368.4 389.6 L1360.3 386.9 L1353.6 378.9 L1350.9 368.1Z" fill="#4d4d4d"/>
<path d="M1340.2 373.5 L1346.9 372.1 L1350.1 378.9 L1344.2 382.1Z" fill="#4d4d4d"/>
<path d="M1353.6 412.5 L1365.7 411.2 L1368.4 419.2 L1360.3 421.4Z" fill="#4d4d4d"/>
<path d="M1399.4 362.7 L1406.1 362.7 L1407.4 378.9 L1400.7 378.9Z" fill="#4d4d4d"/>
<path d="M361.3 386.9 L370.7 373.5 L378.8 370.8 L392.3 370.8 L403 368.1 L411.1 373.5 L416.5 386.9 L430 397.7 L421.9 400.4 L413.8 397.7 L408.4 389.6 L403 395 L400.3 411.2 L392.3 413.9 L381.5 405.8 L370.7 400.4 L362.7 397.7Z" fill="#4d4d4d"/>
<path d="M411.1 365.4 L424.6 361.4 L435.3 358.7 L440.7 362.7 L439.4 376.2 L430 377.5 L419.2 378.9 L412.5 373.5Z" fill="#4d4d4d"/>
<path d="M369.4 360 L376.1 362.7 L378.8 373.5 L370.7 373.5Z" fill="#4d4d4d"/>
<path d="M370.7 290 L384.2 288.7 L385.5 295.4 L373.4 296Z" fill="#4d4d4d"/>
<path d="M384.2 269.9 L393.6 269.1 L394.4 276.6 L385.5 277.1Z" fill="#4d4d4d"/>
<path d="M376.7 304.9 L381.5 304.3 L382 310.2 L377.2 310.5Z" fill="#4d4d4d"/>
<path d="M459.6 238.9 L467.6 238.9 L467.6 252.4 L462.2 252.4Z" fill="#4d4d4d"/>
<path d="M475.7 237.6 L483.8 237.6 L484.3 249.7 L477 249.7Z" fill="#4d4d4d"/>
<path d="M456.9 330.4 L464.9 331.8 L475.7 338.5 L473 342.5 L462.2 337.1Z" fill="#4d4d4d"/>
<path d="M443.4 338.5 L451.5 341.2 L454.2 352 L448.8 350.6Z" fill="#4d4d4d"/>
<path d="M403 356 L409.8 356 L410.6 360 L403.6 360.6Z" fill="#4d4d4d"/>
<path d="M477.7 397.2 L483.1 399.9 L491.1 410.7 L485.8 409.4Z" fill="#4d4d4d"/>
<path d="M440 338 L450.8 340.7 L453.5 365 L442.7 362.3Z" fill="#4d4d4d"/>
<path d="M585.3 421.5 L598.8 424.2 L601.5 446.2 L639.2 446.2 L640.5 465.1 L585.3 465.1 L590.7 453.8 L585.3 440.3Z" fill="#4d4d4d"/>
<path d="M408.1 505 L416.1 507.7 L424.2 518.4 L435 526.5 L443.1 540 L445.8 556.1 L449.8 572.2 L440.4 569.6 L435 556.1 L429.6 545.3 L424.2 534.6 L413.5 523.8 L408.1 513Z" fill="#4d4d4d"/>
<path d="M585.7 394.6 L597.8 394.6 L597.8 445.8 L636.8 445.8 L638.2 459.2 L626.1 461.9 L612.6 461.9 L604.5 470 L599.2 480.7 L593.8 491.5 L592.4 507.7 L588.4 518.4 L592.4 523.8 L583 534.6 L572.2 537.3 L564.2 541.3 L556.1 540 L561.5 531.9 L572.2 523.8 L569.6 513 L577.6 513 L583 502.3 L585.7 486.1 L583 478 L591.1 470 L593.8 453.8 L588.4 440.4 L585.7 421.5Z" fill="#4d4d4d"/>
<path d="M658.4 448.4 L720 448.4 L739.1 448.4 L739.1 561.5 L720 566.9 L712.2 585.7 L696 577.6 L682.6 572.2 L679.9 558.8 L682.6 550.7 L671.8 548 L658.4 540 L650.3 531.9 L658.4 521.1 L669.1 515.7 L661.1 510.3 L650.3 507.7 L644.9 502.3 L658.4 499.6 L671.8 491.5 L679.9 480.7 L669.1 478 L658.4 464.6Z" fill="#4d4d4d"/>
<path d="M653 607.2 L661.1 604.5 L666.4 615.3 L663.8 628.8 L669.1 640.1 L655.7 640.1 L658.4 626.1 L654.3 618Z" fill="#4d4d4d"/>
<path d="M655.8 443.9 L717.7 443.9 L720.3 468.1 L723 481.6 L728.4 497.8 L725.7 508.5 L717.7 516.6 L724.4 527.4 L721.7 540.8 L724.4 548.9 L723 559.7 L719 570.4 L712.3 582.5 L706.9 575.8 L696.1 578.5 L688 579.8 L680.5 570.4 L679.4 559.7 L675.9 546.2 L677.3 519.3 L674.6 500.4 L659.8 484.3 L657.1 468.1Z" fill="#4d4d4d"/>
<path d="M650.4 530 L657.1 520.6 L667.9 524.7 L674.6 532.7 L673.2 544.9 L663.8 546.2 L655.8 538.1Z" fill="#4d4d4d"/>
<path d="M645 501.8 L654.4 504.5 L663.8 505.8 L669.2 509.9 L658.4 512.6 L647.7 508.5Z" fill="#4d4d4d"/>
<path d="M698.8 519.3 L706.9 516.6 L710.9 532.7 L704.2 543.5 L697.5 532.7Z" fill="#b3b3b3"/>
<path d="M653.1 608.1 L663.8 605.4 L665.2 618.9 L673.2 626.9 L669.2 637.7 L658.4 645.8 L653.1 640.4 L658.4 626.9 L653.1 618.9Z" fill="#4d4d4d"/>
<path d="M626.1 626.9 L632.9 628.3 L632.9 635 L626.7 635Z" fill="#4d4d4d"/>
</g>
<g filter="url(#speck)">
<path d="M682.2 346.1 L742.8 343.4 L742.8 386.5 L725.3 386.5 L703.8 381.1 L682.2 365Z" fill="#4d4d4d"/>
<path d="M370.7 236.2 L413.8 236.2 L416.5 249.7 L405.7 255.1 L400.3 265.8 L395 279.3 L384.2 279.3 L378.8 265.8 L373.4 252.4Z" fill="#4d4d4d"/>
<path d="M368 287.4 L386.9 287.4 L386.9 311.6 L373.4 311.6Z" fill="#4d4d4d"/>
<path d="M491.1 424.2 L531.5 424.2 L532.9 440.3 L528.8 465.1 L520.7 465.1 L518 445.7 L510 465.1 L501.9 465.1 L500.6 445.7 L493.8 440.3Z" fill="#4d4d4d"/>
<path d="M459.2 480.7 L472.7 467.3 L480.7 448.4 L491.5 416.1 L534.6 416.1 L534.6 507.7 L521.1 513 L502.3 507.7 L488.8 513 L475.4 515.7 L461.9 510.3Z" fill="#4d4d4d"/>
</g>
<path d="M345.2 327.7 L357.3 326.4 L360.5 333.1 L354.6 338.5 L350.6 345.2 L343.8 343.9 L342.5 334.5Z" fill="#4a919c" stroke="#b0d142" stroke-width="1.5"/>
<path d="M362.6 265.4 L366.6 268.4 L369.6 272.4 L366.6 280.5 L363.1 280.5Z" fill="#f0ab00"/>
<path d="M1336.5 484.2 L1330.5 488.3 L1325.4 491.3 L1324.4 498.4 L1324.9 505.4 L1323.4 512.5 L1327.4 516.5 L1330.5 520.6 L1332.5 528.6 L1331.5 536.7 L1332.5 545.8 L1333.5 550.8 L1336.5 550.8 L1337.5 538.7 L1340.6 530.6 L1342.6 522.6 L1340.6 518.5 L1336.5 514.5 L1334.5 510.5 L1335 502.4 L1335 494.3 L1339.5 485.2Z" fill="#e05000"/>
<path d="M1330.5 518.5 L1334.5 520.6 L1339.5 528.6 L1336.5 536.7 L1333.5 540.7 L1332 530.6Z" fill="#f0ab00"/>
<path d="M1351.7 493.3 L1356.7 495.3 L1357.7 502.4 L1354.2 499.4Z" fill="#f0ab00"/>
<path d="M1342.6 524.6 L1350.6 529.6 L1346.6 540.7 L1340.6 550 L1337.5 550 L1340.6 536.7Z" fill="#dc3c00"/>
<g filter="url(#rough3)">
<path d="M726.4 668.8 L730.5 685 L734.5 701.1 L740.6 717.3" fill="none" stroke="#f0ab00" stroke-width="6" stroke-linecap="round" stroke-linejoin="round"/>
<path d="M734.5 668.8 L738.5 689 L744.6 709.2 L752.7 721.3" fill="none" stroke="#f0ab00" stroke-width="6" stroke-linecap="round" stroke-linejoin="round"/>
<path d="M740.6 672.9 L742.6 689" fill="none" stroke="#f0ab00" stroke-width="6" stroke-linecap="round" stroke-linejoin="round"/>
<path d="M692.1 652.7 L694.1 664.8 L700.2 674.9 L702.2 682.9" fill="none" stroke="#f0ab00" stroke-width="6" stroke-linecap="round" stroke-linejoin="round"/>
<path d="M680 674.9 L688.1 680.9 L700.2 680.9" fill="none" stroke="#f0ab00" stroke-width="6" stroke-linecap="round" stroke-linejoin="round"/>
<path d="M706.2 664.8 L710.3 680.9" fill="none" stroke="#f0ab00" stroke-width="6" stroke-linecap="round" stroke-linejoin="round"/>
<path d="M702.2 693 L720.4 709.2 L732.5 729.4 L746.6 747.5 L764.8 755.6" fill="none" stroke="#f0ab00" stroke-width="6" stroke-linecap="round" stroke-linejoin="round"/>
<path d="M746.6 729.4 L760.7 725.3 L770.8 727.4 L766.8 733.4 L752.7 735.4" fill="none" stroke="#f0ab00" stroke-width="6" stroke-linecap="round" stroke-linejoin="round"/>
<path d="M724.4 676.9 L728.4 668.8" fill="none" stroke="#f0ab00" stroke-width="6" stroke-linecap="round" stroke-linejoin="round"/>
<path d="M726.4 668.8 L730.5 685 L734.5 701.1 L740.6 717.3" fill="none" stroke="#dc3c00" stroke-width="3.4" stroke-linecap="round" stroke-linejoin="round"/>
<path d="M734.5 668.8 L738.5 689 L744.6 709.2 L752.7 721.3" fill="none" stroke="#dc3c00" stroke-width="3.4" stroke-linecap="round" stroke-linejoin="round"/>
<path d="M740.6 672.9 L742.6 689" fill="none" stroke="#dc3c00" stroke-width="3.4" stroke-linecap="round" stroke-linejoin="round"/>
<path d="M692.1 652.7 L694.1 664.8 L700.2 674.9 L702.2 682.9" fill="none" stroke="#dc3c00" stroke-width="3.4" stroke-linecap="round" stroke-linejoin="round"/>
<path d="M680 674.9 L688.1 680.9 L700.2 680.9" fill="none" stroke="#dc3c00" stroke-width="3.4" stroke-linecap="round" stroke-linejoin="round"/>
<path d="M706.2 664.8 L710.3 680.9" fill="none" stroke="#dc3c00" stroke-width="3.4" stroke-linecap="round" stroke-linejoin="round"/>
<path d="M702.2 693 L720.4 709.2 L732.5 729.4 L746.6 747.5 L764.8 755.6" fill="none" stroke="#dc3c00" stroke-width="3.4" stroke-linecap="round" stroke-linejoin="round"/>
<path d="M746.6 729.4 L760.7 725.3 L770.8 727.4 L766.8 733.4 L752.7 735.4" fill="none" stroke="#dc3c00" stroke-width="3.4" stroke-linecap="round" stroke-linejoin="round"/>
<path d="M724.4 676.9 L728.4 668.8" fill="none" stroke="#dc3c00" stroke-width="3.4" stroke-linecap="round" stroke-linejoin="round"/>
<path d="M706.2 693 L722.4 709.2 L734.5 729.4 L748.6 745.5" fill="none" stroke="#4a919c" stroke-width="1.6"/>
</g>
<path d="M676.3 647.7 L679 661.1" fill="none" stroke="#dc3c00" stroke-width="3" stroke-linecap="round"/>
<path d="M692.4 650.3 L695.1 666.5" fill="none" stroke="#dc3c00" stroke-width="3" stroke-linecap="round"/>
<path d="M666.9 684 L677.6 680 L688.4 674.6" fill="none" stroke="#dc3c00" stroke-width="3" stroke-linecap="round"/>
<path d="M699.2 666.5 L704.5 682.6" fill="none" stroke="#dc3c00" stroke-width="3" stroke-linecap="round"/>

</g>
<rect x="1191.5" y="877.5" width="2.7" height="1.6" fill="#cd0000"/><rect x="1206.3" y="878.6" width="3.8" height="1.4" fill="#cd0000"/><rect x="1214.4" y="875.9" width="8.1" height="2.7" fill="#cd0000"/><rect x="1222.5" y="874.3" width="6.8" height="2.2" fill="#cd0000"/><rect x="1230.6" y="873.2" width="3.8" height="1.6" fill="#cd0000"/><rect x="1236.7" y="869.5" width="3.8" height="2.7" fill="#cd0000"/><rect x="1242.1" y="866.2" width="3.8" height="2.2" fill="#cd0000"/><rect x="1235.9" y="873" width="2.2" height="3" fill="#f0ab00"/><rect x="1239.4" y="868.7" width="2.2" height="3" fill="#f0ab00"/><rect x="1242.9" y="864.1" width="2.2" height="3" fill="#f0ab00"/><rect x="1247" y="857.1" width="2.2" height="3" fill="#f0ab00"/><rect x="1249.9" y="850.9" width="2.2" height="3" fill="#f0ab00"/>
<path d="M400.3 629.1 L411.1 627.5 L423.2 629.6 L419.2 632.3 L405.7 632.9Z" fill="#b0d142" stroke="#4a919c" stroke-width="1"/>
<path d="M438.6 643.6 L444.8 647.1 L443.9 649.8 L439.4 647.1Z" fill="#dc3c00"/>
<path d="M438 656.5 L446.1 661.9 L444.8 664.6 L438.8 659.8Z" fill="#dc3c00"/>
<path d="M418.6 649.8 L422.4 649.8 L422.4 653.3 L418.6 653.3Z" fill="#f0ab00"/>

<path d="M351.4 235.7 L932.7 235.7 L932.7 226 L941.3 226 L942.9 237.6 L948.8 243 L962.3 246.4 L973.1 244.8 L986.5 248.3 L994.6 253.7 L1002.7 252.4 L1010.7 259.1 L1021.5 255.1 L1032.3 258.3 L1043 258.3 L1053.8 261.3 L1043 265.8 L1032.3 271.2 L1021.5 277.9 L1010.7 286 L1001.3 294.1 L994.6 296.8 L1005.4 292.7 L1018.8 290 L1024.2 287.9 L1033.6 286 L1028.2 291.4 L1026.9 297.6 L1036.3 298.1 L1048.4 292.7 L1061.9 286 L1072.6 279.3 L1083.4 275.8 L1091.5 276.6 L1083.4 283.3 L1076.7 288.7 L1076.7 292.7 L1086.1 291.4 L1094.2 295.4 L1102.2 300.8 L1113 302.2 L1123.8 297.6 L1137.2 294.9 L1148 294.1 L1149.3 299.5 L1158.8 302.2 L1166.8 304.9 L1168.2 312.9 L1170.9 315.6 L1161.5 314.3 L1150.7 315.6 L1142.6 312.9 L1134.5 314.3 L1126.5 317 L1118.4 318.3 L1107.6 318.3 L1102.2 325 L1096.9 333.1 L1091.5 337.1 L1087.4 343.9 L1083.4 352 L1086.1 353.3 L1091.5 346.6 L1099.6 338.5 L1104.9 333.1 L1102.2 338.5 L1096.9 349.3 L1092.8 360 L1090.1 370.8 L1087.4 384.2 L1088.8 397.7 L1090.1 408.5 L1091.5 419.2 L1095.5 426 L1102.2 427.3 L1110.3 424.6 L1115.7 417.9 L1121.1 405.8 L1122.4 395 L1118.4 384.2 L1115.7 373.5 L1117 362.7 L1119.7 352 L1122.4 343.9 L1129.2 338.5 L1135.9 333.1 L1142.6 327.7 L1148 321 L1154.7 317.5 L1164.1 321 L1173.6 326.4 L1181.6 333.1 L1184.3 339.8 L1181.6 346.6 L1183 354.6 L1179 362.7 L1170.9 370.8 L1170.9 376.2 L1176.3 377.5 L1183 370.8 L1189.7 365.4 L1196.4 368.1 L1199.1 378.9 L1200.5 392.3 L1197.8 403.1 L1192.4 408.5 L1187 416.5 L1181.6 424.6 L1180.3 427.3 L1188.4 434 L1199.1 434.8 L1209.9 431.3 L1220.7 427.3 L1231.4 423.3 L1242.2 419.8 L1250 416.5 L1250 416.5 L1258.1 412.5 L1266.1 407.1 L1272.9 401.7 L1275.6 397.7 L1272.9 391 L1274.2 386.4 L1285 383.7 L1295.8 384.2 L1303.8 387.5 L1314.6 385.6 L1324 381.6 L1330.7 378.9 L1332.1 373.5 L1329.4 366.8 L1333.4 361.4 L1341.5 354.6 L1349.6 347.9 L1357.7 342.5 L1363 340.6 L1392.6 341.7 L1430.3 340.6 L1434.4 334.5 L1438.4 333.1 L1443.8 331.8 L1449.2 330.4 L1450.5 325 L1455.9 317 L1458.6 307.5 L1462.6 298.1 L1468 290 L1473.4 282 L1480.1 276.1 L1484.1 276.6 L1486.8 282 L1493.6 279.3 L1500.3 277.9 L1505.7 280.6 L1509.7 286 L1510.5 303.5 L1511.1 319.7 L1516.4 325 L1517.8 333.1 L1521.8 337.1 L1525.9 341.2 L1525.9 346.6 L1520.5 349.3 L1515.1 352 L1508.4 356 L1503 358.7 L1497.6 357.3 L1492.2 361.4 L1486.8 357.3 L1484.1 364.1 L1478.8 368.1 L1473.4 370.8 L1468 373.5 L1462.6 378.9 L1457.2 384.2 L1451.9 389.6 L1447.8 395 L1446.5 397.7 L1443.8 403.1 L1442.4 409.8 L1445.1 413.9 L1447.8 419.2 L1450.5 424.6 L1454.5 427.3 L1457.2 427.3 L1462.6 428.7 L1464.8 424.6 L1462.6 419.2 L1459.9 417.9 L1464 420.6 L1465.8 426 L1462.6 430.5 L1455.9 430.5 L1450.5 431.3 L1443.8 434 L1438.4 435.4 L1435.7 431.3 L1430.3 435.4 L1422.2 437.5 L1411.5 439.4 L1400.7 440.8 L1390 442.9 L1384.6 444 L1384.2 445.1 L1379.2 450.5 L1374.9 456.3 L1377.5 458.9 L1380.8 462.2 L1380 470.6 L1377.5 477.4 L1374.1 484.1 L1369.1 490.8 L1364 496.7 L1360.6 500.9 L1358.6 500.1 L1354.8 496.7 L1351.4 493.4 L1348 487.5 L1346.3 482.4 L1346.3 479.1 L1348 479.9 L1348.9 487.5 L1351.4 494.2 L1354.8 502.6 L1357.3 507.7 L1357.3 511.9 L1356.4 517.7 L1353.1 524.5 L1349.7 531.2 L1345.5 539.6 L1341.3 548 L1338.8 554.3 L1340.2 562.3 L1341.5 565 L1344.2 575.8 L1346.4 583.9 L1348.2 589.3 L1342.9 597.3 L1336.1 602.7 L1330.7 606.8 L1326.7 610.8 L1320 612.1 L1311.9 613.5 L1303.8 618.9 L1298.4 626.9 L1297.1 631 L1290.4 632.3 L1282.3 636.4 L1274.2 643.1 L1268.8 651.2 L1270.9 653.3 L1261.5 660.1 L1250.7 666.8 L1242.7 672.2 L1235.9 678.9 L1230.6 687 L1225.2 697.8 L1222.5 707.2 L1222.5 716.6 L1223.8 727.4 L1227.9 743.5 L1233.2 762.3 L1238.6 778.5 L1244 794.6 L1249.4 810.8 L1252.1 824.2 L1250.7 840.4 L1249.4 852.5 L1244 859.2 L1235.9 863.3 L1229.2 864.6 L1226.5 856.5 L1221.1 848.5 L1214.4 840.4 L1210.4 829.6 L1206.3 818.9 L1201 813.5 L1196.9 802.7 L1194.2 789.3 L1196.9 775.8 L1194.2 762.3 L1186.1 751.6 L1178.1 740.8 L1170 732.7 L1166.8 735.4 L1161.5 735.4 L1153.4 739.5 L1145.3 742.2 L1138.6 743.5 L1137.2 735.4 L1131.9 728.7 L1123.8 724.7 L1113 723.3 L1102.2 724.7 L1091.5 726 L1083.4 728.7 L1075.3 726 L1064.6 726 L1059.2 726 L1051.1 727.4 L1043 728.7 L1048.4 732.7 L1056.5 731.4 L1059.2 738.1 L1055.1 748.9 L1063.2 758.3 L1055.1 762.3 L1048.4 752.9 L1037.7 758.3 L1018.8 757 L1010.7 748.9 L1000 742.2 L983.8 745.7 L965 742.2 L956.9 744.9 L946.1 748.9 L938.1 755.6 L930 762.3 L922.2 763.7 L914.1 767.7 L904.7 771.8 L895.3 778.5 L888.6 786.6 L884.5 794.6 L883.2 805.4 L884.5 816.2 L888.6 829.6 L891.2 840.4 L887.2 844.4 L879.1 841.7 L868.4 839 L857.6 835 L850.9 829.6 L846.8 821.6 L842.8 810.8 L840.1 801.4 L833.4 793.3 L826.7 783.9 L821.3 773.1 L815.9 762.3 L809.2 751.6 L802.4 743.5 L793 743 L779.6 742.2 L774.2 744.9 L771.5 754.3 L767.4 761 L760.7 762.3 L752.6 757 L744.6 751.6 L736.5 743.5 L732.5 735.4 L728.4 724.7 L720.3 716.6 L712.3 709.9 L702.9 701.8 L696.1 692.4 L692.1 685.6 L690.7 689.7 L659 689.7 L659 701 L641 701 L610 701 L596.8 700.4 L520.1 670.8 L522 664.1 L470.3 669.5 L467.6 659.2 L462.2 648.5 L454.2 640.4 L444.8 635 L435.3 629.6 L424.6 624.2 L413.8 618.9 L403 617.5 L397.7 613.5 L396.3 602.7 L392.3 594.6 L384.2 583.9 L376.1 573.1 L370.7 562.3 L370.7 554.3 L362.7 548.9 L358.6 540.8 L354.6 524.7 L347.9 523.3 L343.8 513.9 L337.1 505.8 L331.7 497.8 L330.4 487 L327.7 476.2 L321 468.1 L316.9 460.1 L318.3 452 L323.6 438.1 L322.3 427.3 L320.1 419.2 L317.7 408.5 L316.9 397.7 L319.1 384.2 L321 368.1 L323.6 352 L325 333.1 L326.3 319.7 L327.7 308.9 L324.4 307.5 L325 300.8 L326.3 292.7 L324.4 288.7 L321.8 279.3 L316.9 269.9 L312.9 260.4 L311 251.6 L316.9 252.9 L330.4 256.4 L343.8 258.3 L350.6 259.9 L353.2 261.8 L351.9 265.8 L347.9 269.9 L345.2 276.6 L346.5 282.5 L349.7 286 L354.6 283.3 L360.5 277.9 L362.7 268.5 L361.3 260.4 L358.6 252.4 L357.3 244.3 L353.2 238.9 L351.4 235.7Z M1373.3 458.9 L1384.2 453.8 L1397.7 450.5 L1411.1 446.3 L1424.6 444.1 L1422.9 446.3 L1407.7 453 L1394.3 457.2 L1380.8 459.7Z M1447.8 434 L1453.2 433.2 L1454.5 435.9 L1449.2 436.7Z M1459.9 437.5 L1465.3 437 L1465.8 440.2 L1460.5 440.8Z" fill="none" stroke="#000" stroke-width="3.8" stroke-linejoin="round"/>
<path d="M327.7 307.5 L334.4 306.7 L342.5 308.9 L347.9 312.1 L351.4 318.3 L353.2 323.7 L360.5 324.5 L370.7 321.8 L382.9 322.9 L395 322.3 L405.7 319.7 L416.5 317 L430 315.1 L451.5 314.3 L473 313.7 M473 235.7 L473 313.7 L478.4 317 L483.2 322.3 L481.6 330.4 L478.4 338.5 L474.4 345.2 L469.8 352 L468.2 357.3 L471.7 361.4 L475.2 363.3 L473.6 370.8 L473 419.2 M320.1 419.2 L599.5 419.2 M409.8 419.2 L409.8 452.1 M535.5 419.2 L535.5 452.1 M492.4 235.7 L492.4 260.4 L497.2 269.9 L505.3 279.3 L513.4 287.4 L521.5 294.1 L528.2 297.6 L529 306.2 L526.8 317 L526.3 323.7 L532.2 326.4 L539 322.3 L543 330.4 L545.7 338.5 L549.7 343.9 L556.4 349.3 L560.5 356 L567.2 353.3 L575.3 352 L586 351.4 L592.8 347.9 L596.8 352 L599.5 354.1 M599.2 340.6 L599.2 446.2 M746.9 235 L746.9 446.2 M599.2 340.6 L746.9 340.6 M746.9 315.8 L905 315.8 M745.9 394.2 L863 394.2 L868.4 397.7 L875.1 399 L881.8 397.2 L889.9 397.7 L898 400.4 L903.4 404.4 M599.2 446.2 L789.1 446.2 L789.1 472.6 M641.4 446.2 L641.4 701.5 M789.1 472.6 L789.1 551.8 M891.2 235.7 L892.6 244.3 L892.1 255.1 L895.3 265.8 L898.5 276.6 L899.3 290 L902 300.8 L903.9 311.6 L902 318.3 L898 322.3 L902 326.4 L906 330.4 L906.9 346.6 L906.9 380.2 L903.9 382.1 L905.5 389.6 L903.4 397.7 L904.7 404.4 L910.1 416.5 L914.1 427.3 L916.8 438.1 L919.5 452.1 M906.9 380.2 L930 380.2 M930 380.2 L1016.1 380.2 M994.6 296.8 L993.2 306.2 L992.4 314.3 L985.2 318.3 L981.1 323.7 L983.8 330.4 L982.5 341.2 L987.9 349.3 L997.3 356 L1005.4 362.7 L1013.4 370.8 L1017.5 378.9 L1018.8 386.9 L1017.5 395 L1022.9 401.7 L1030.9 407.1 L1036.3 413.9 L1039.4 420.4 L1035.9 428.4 L1026.5 432.5 L1019.8 436.5 L1018.4 445.9 L1020.6 452.7 L1013 458 L1010.9 468.8 L1014.4 479.6 L1021.1 487.7 L1026.5 495.7 L1034.6 499.8 L1038.6 506.5 L1035.9 515.9 L1040 522.6 L1048 529.4 L1053.9 537.4 L1056.1 545.5 L1061.5 548.2 M1036.3 298.1 L1043 304.9 L1056.5 310.2 L1070 314.3 L1079.4 317 L1086.1 322.3 L1088.8 330.4 L1091.5 337.1 M1031.7 406.3 L1088.8 406.3 M1094.2 427.3 L1094.2 452.1 M1110.3 426 L1152 426 L1180.3 427.3 M1152 426 L1152 452.1 M1242.2 419.8 L1242.2 452.1 M1258.1 412.5 L1258.1 419.8 L1348.2 419.8 L1353.6 424.6 L1357.7 431.3 L1361.7 436.7 M1392.6 341.7 L1391.3 352 L1392.6 362.7 L1392.6 373.5 L1395.3 384.2 L1396.7 400.4 L1395.3 401.7 M1430.3 340.6 L1426.3 352 L1422.2 360 L1418.2 369.4 L1414.2 378.9 L1411.5 389.6 L1410.1 401.2 M1439.7 333.1 L1441.1 362.7 L1442.4 384.2 L1445.1 395 L1446.5 397.7 M1395.3 401.7 L1438.4 401.2 L1443.8 397.7 L1446.5 397.7 M1391.3 418.7 L1435.7 418.7 L1438.4 427.3 L1439.7 433.2 M1395.3 401.7 L1391.3 418.7 L1388.6 440.8 L1384.6 444 M1427.1 418.7 L1427.1 435.9 M1351.4 420.2 L1354.8 425.2 L1356.4 431.1 L1360.6 434.5 L1363.2 437.8 L1382.5 446.3 M1363.2 437.8 L1359.8 443.7 L1356.4 448.8 L1354.8 453.8 L1356.4 458.9 L1360.6 462.2 L1364.9 467.3 L1360.6 470.6 L1356.4 474 L1352.2 476.5 L1348 477.4 L1346.3 479.1 M1290 478.7 L1343.8 478.7 L1343.8 511.9 L1355.6 511.9 M1335.4 485.8 L1329.5 489.2 L1325.3 494.2 L1326.2 504.3 L1327.8 514.4 L1330.4 524.5 L1332.1 534.6 L1332.9 550 M1338.8 484.1 L1336.3 494.2 L1335.4 504.3 L1337.1 514.4 L1340.5 522.8 L1338.8 534.6 L1337.1 550 M1300.1 478.7 L1300.1 487.5 L1297.6 494.2 L1303.5 494.2 L1308.5 499.2 L1315.2 500.9 L1317.8 505.1 L1312.7 507.7 L1309.3 512.7 L1311 516.9 L1317.8 519.4 L1323.6 524.5 L1328.7 527.8 M409.8 452 L409.8 497.8 L522.8 601.4 M535.5 452 L535.5 574.5 L532.2 577.1 L525.5 575.3 L521.5 578.5 L520.9 589.3 L522.8 601.4 L525.5 608.1 L529.5 616.2 L533.6 622.9 L530.9 629.6 L526.8 637.7 L522.8 645.8 L521.5 653.9 L525.5 659.2 L522 666 M535.9 551.8 L945.9 551.8 M788.2 472.2 L924.9 472.2 M918.2 452 L922.2 460.1 L926.2 468.1 L930 472.2 M768.3 551.8 L768.3 683.8 M769.1 565 L832.4 565 M832 566.4 L832 613.5 L836.1 618.9 L844.1 620.2 L849.5 624.2 L857.6 625.6 L865.7 628.3 L873.8 632.3 L881.8 635 L889.9 637.7 L898 636.4 L906 637.7 L914.1 635 L922.2 633.7 L930 633.7 M690.7 683.5 L767.4 683.5 M921.5 456.7 L1010.3 456.7 L1014.4 460.7 M1060.5 547.5 L1057.8 557 L1052.5 566.4 L1048.4 575.8 L1044.4 585.2 L1039 593.3 L1037.7 602.7 L1032.3 610.8 L1026.9 620.2 L1021.5 628.3 L1017.5 637.7 L1016.1 645.8 L1018.8 656.5 M930 468.1 L935.4 476.2 L940.8 478.9 L938.1 484.3 L943.5 492.4 L946.7 495.1 L946.7 563.7 L947.8 602.7 L948.8 640.4 M946.7 563.7 L1037.7 563.7 L1040.3 571.8 L1034.4 577.1 L1045.7 577.1 M930 631 L938.1 636.4 L946.1 640.4 L956.9 641.7 L956.9 692.1 M956.9 657.1 L1016.1 657.1 M1037.7 604.1 L1183 604.1 M1056.5 562.3 L1082.1 563.7 L1082.9 560.2 L1118.4 560.2 L1172.2 561 L1219.3 562.3 L1250 561.8 M1082.4 603.5 L1074.5 723 L1075.5 726 M1134.6 603.5 L1146.3 674.2 L1150 681 L1146.7 697.7 L1148 715.8 M1219.3 562.3 L1215.3 567.7 L1204.5 573.1 L1196.4 578.5 L1185.7 583.9 L1174.9 589.3 L1166.8 594.6 L1161.5 600 L1160.9 604.1 M1181.6 604.1 L1183 608.1 L1199.1 601.4 L1215.3 598.7 L1228.7 599.5 L1234.1 605.4 L1239.5 608.1 L1250 608.1 M1183 608.1 L1188.4 618.9 L1196.4 629.6 L1204.5 640.4 L1212.6 651.2 L1214.4 652 L1222.5 658.7 L1225.2 666.8 L1229.2 674.9 L1233.2 681.6 M1094.2 452 L1094.2 492.4 L1091.5 495.1 L1094.2 505.8 L1088.8 513.9 L1086.1 522 L1083.4 528.7 M1152 452 L1152 496.4 M1060.5 547.5 L1072.6 540.8 L1080.7 532.7 L1083.4 528.7 L1091.5 527.4 L1102.2 528.7 L1110.3 524.7 L1118.4 522 L1126.5 520.6 L1134.5 511.2 L1142.6 505.8 L1152 499.1 L1158.8 497.8 L1164.1 503.1 L1172.2 507.2 L1183 508.5 L1191.1 505.8 L1196.4 509.9 L1201.8 513.9 L1207.2 505.8 L1212.6 500.4 L1219.3 495.1 L1226 489.7 L1234.1 484.3 L1238.2 473.5 L1239.5 462.8 L1240.9 452 M1199.1 515.2 L1200.5 524.7 L1204.5 532.7 L1211.2 539.5 L1207.2 543.5 L1199.1 548.9 L1188.4 555.6 L1180.3 559.7 L1174.9 561 M1211.2 539.5 L1220.7 544.9 L1228.7 543.5 L1236.8 539.5 L1244.9 536.8 L1250 530 M1242.2 452 L1242.2 478.9 L1250 478.9 M1250 478.9 L1343.7 478.9 M1262.1 478.9 L1262.1 492.4 L1268.8 488.3 L1276.9 483 L1287.7 481.6 L1297.1 484.3 L1301.1 491 L1307.9 495.1 L1314.6 500.4 L1317.3 505.8 L1311.9 509.9 L1309.2 515.2 M1286.3 483 L1282.3 495.1 L1275.6 503.1 L1268.8 509.9 L1262.1 508.5 L1258.1 516.6 L1252.7 523.3 L1250 528.7 M1250 562.3 L1340.2 562.3 M1250 608.1 L1260.8 609.4 L1282.3 632.9 M767.4 652 L767.4 683.8 L692.1 683.8 M956.9 652 L956.9 689.7 L962.3 697.8 L966.3 708.5 L965 719.3 L962.3 730 L961 738.1 L958.3 743.5 M1016.1 652 L1020.2 662.8 L1017.5 673.5 L1013.4 684.3 L1009.4 695.1 L1006.7 705.8 L1008 709.9 L1047.1 709.9 L1048.4 719.3 L1051.1 727.4 M1091.5 709.1 L1145.3 709.1 M1091.5 709.1 L1092.8 719.3 L1094.2 724.7 M1148 715.8 L1207.2 722.5 L1209.9 716.6 L1215.3 715.2 L1222 716.6" fill="none" stroke="#000" stroke-width="3.7" stroke-linejoin="round" stroke-linecap="round"/>
<path d="M350.5 235.1 L354.5 236.1 L355 240.1 L359.5 242.2 L360.6 247.2 L358.5 251.2 L361.1 253.8 L362.1 258.3 L365.6 260.8 L364.6 263.9 L361.6 265.4 L362.1 270.4 L361.6 277.5 L360.6 281.5 L357.5 284 L353.5 286.6 L349.5 288.6 L345.4 286.1 L343.9 281.5 L343.4 277 L345.4 272.9 L348.4 269.4 L350.5 265.4 L352 262.8 L350.5 258.8 L352.5 255.3 L351.5 252.3 L347.4 252.3 L343.4 249.2 L342.9 245.2 L345.4 242.7 L348.4 241.7 L350.5 239.1Z" fill="#000"/>
<path d="M349.5 274 L354 273.4 L354.5 276 L350.5 276.5Z" fill="#b3b3b3"/>
<path d="M355.9 520.6 L365.4 520.6 L369.4 530 L368 540.8 L361.3 539.5 L358.6 532.7Z" fill="#000"/>
<ellipse cx="1196.9" cy="792.5" rx="5" ry="4.5" fill="#000"/>
<ellipse cx="1206.3" cy="818.9" rx="3.5" ry="3.5" fill="#000"/>
<ellipse cx="1230.6" cy="861.9" rx="4" ry="3.5" fill="#000"/>
<path d="M1336.5 484.2 L1330.5 488.3 L1325.4 491.3 L1324.4 498.4 L1324.9 505.4 L1323.4 512.5 L1327.4 516.5 L1330.5 520.6 L1332.5 528.6 L1331.5 536.7 L1332.5 545.8 L1333.5 550" fill="none" stroke="#000" stroke-width="4" stroke-linecap="round" stroke-linejoin="round"/>
<path d="M1339.5 485.2 L1335 494.3 L1335 502.4 L1334.5 510.5 L1336.5 514.5 L1340.6 518.5 L1342.6 522.6 L1340.6 530.6 L1337.5 538.7 L1336.5 545.8 L1335.5 550" fill="none" stroke="#000" stroke-width="4" stroke-linecap="round" stroke-linejoin="round"/>
<path d="M1316.3 524.6 L1327.4 530.6" fill="none" stroke="#000" stroke-width="5" stroke-linecap="round" stroke-linejoin="round"/>
<path d="M1320.4 537.7 L1330.5 545.8" fill="none" stroke="#000" stroke-width="5" stroke-linecap="round" stroke-linejoin="round"/>
<path d="M1315.3 544.8 L1328.4 550.8" fill="none" stroke="#000" stroke-width="5" stroke-linecap="round" stroke-linejoin="round"/>
<path d="M1313.3 513.5 L1322.4 520.6 L1328.4 525.6" fill="none" stroke="#000" stroke-width="4" stroke-linecap="round" stroke-linejoin="round"/>
<path d="M1342.6 522.6 L1349.6 529.6 L1352.7 526.6" fill="none" stroke="#000" stroke-width="3.5" stroke-linecap="round" stroke-linejoin="round"/>
<path d="M1340.6 530.6 L1345.6 538.7 L1342.6 550" fill="none" stroke="#000" stroke-width="3" stroke-linecap="round" stroke-linejoin="round"/>
<path d="M908.7 770.4 L898 777.1 L889.9 785.2 L884.5 794.6 L879.1 806.8" fill="none" stroke="#000" stroke-width="5" stroke-linecap="round" stroke-linejoin="round"/>
<path d="M1322.7 567.7 L1330.7 571.8 L1338.8 570.4" fill="none" stroke="#000" stroke-width="4" stroke-linecap="round" stroke-linejoin="round"/>
<path d="M1324 578.5 L1333.4 581.2 L1340.2 578.5 L1336.1 574.5" fill="none" stroke="#000" stroke-width="4" stroke-linecap="round" stroke-linejoin="round"/>
<path d="M1317.3 592 L1328 590.6 L1336.1 593.3 L1342.9 586.6" fill="none" stroke="#000" stroke-width="4.5" stroke-linecap="round" stroke-linejoin="round"/>
<path d="M1314.6 602.7 L1324 601.4 L1330.7 605.4" fill="none" stroke="#000" stroke-width="4.5" stroke-linecap="round" stroke-linejoin="round"/>
<path d="M1307.9 612.1 L1317.3 606.8" fill="none" stroke="#000" stroke-width="4" stroke-linecap="round" stroke-linejoin="round"/>
<path d="M1036.3 728.7 L1043 726 L1048.4 730 L1044.4 734.1 L1037.7 732.7 L1036.3 728.7" fill="none" stroke="#000" stroke-width="3" stroke-linecap="round" stroke-linejoin="round"/>
<path d="M1048.4 732.7 L1056.5 738.1 L1059.2 746.2 L1053.8 754.3 L1061.9 759.7" fill="none" stroke="#000" stroke-width="4" stroke-linecap="round" stroke-linejoin="round"/>
<path d="M1312.4 512.6 L1318.6 522 L1320.5 532.7 L1317.3 540.8 L1322.7 546.2 L1330.7 554.3" fill="none" stroke="#000" stroke-width="4.5" stroke-linecap="round" stroke-linejoin="round"/>

<text class="lt" x="1571" y="403">Relative pop. size</text>
<rect x="1571" y="417" width="25" height="25.6" fill="#4d4d4d"/><text x="1607" y="437.2" class="lg">excl.-severe</text>
<rect x="1571" y="442.5" width="25" height="25.6" fill="#b3b3b3"/><text x="1607" y="462.7" class="lg">excl.-moderate</text>
<rect x="1571" y="468" width="25" height="25.6" fill="#1874cd"/><text x="1607" y="488.2" class="lg">0-10</text>
<rect x="1571" y="493.5" width="25" height="25.6" fill="#4a919c"/><text x="1607" y="513.7" class="lg">10-20</text>
<rect x="1571" y="519" width="25" height="25.6" fill="#7db073"/><text x="1607" y="539.2" class="lg">20-30</text>
<rect x="1571" y="544.5" width="25" height="25.6" fill="#b0d142"/><text x="1607" y="564.7" class="lg">30-40</text>
<rect x="1571" y="570" width="25" height="25.6" fill="#e6ee1b"/><text x="1607" y="590.2" class="lg">40-50</text>
<rect x="1571" y="595.5" width="25" height="25.6" fill="#f9e400"/><text x="1607" y="615.7" class="lg">50-60</text>
<rect x="1571" y="621" width="25" height="25.6" fill="#f0ab00"/><text x="1607" y="641.2" class="lg">60-70</text>
<rect x="1571" y="646.5" width="25" height="25.6" fill="#e67300"/><text x="1607" y="666.7" class="lg">70-80</text>
<rect x="1571" y="672" width="25" height="25.6" fill="#dc3c00"/><text x="1607" y="692.2" class="lg">80-90</text>
<rect x="1571" y="697.5" width="25" height="25.6" fill="#cd0000"/><text x="1607" y="717.7" class="lg">90-100</text>

</svg>
</body></html>
